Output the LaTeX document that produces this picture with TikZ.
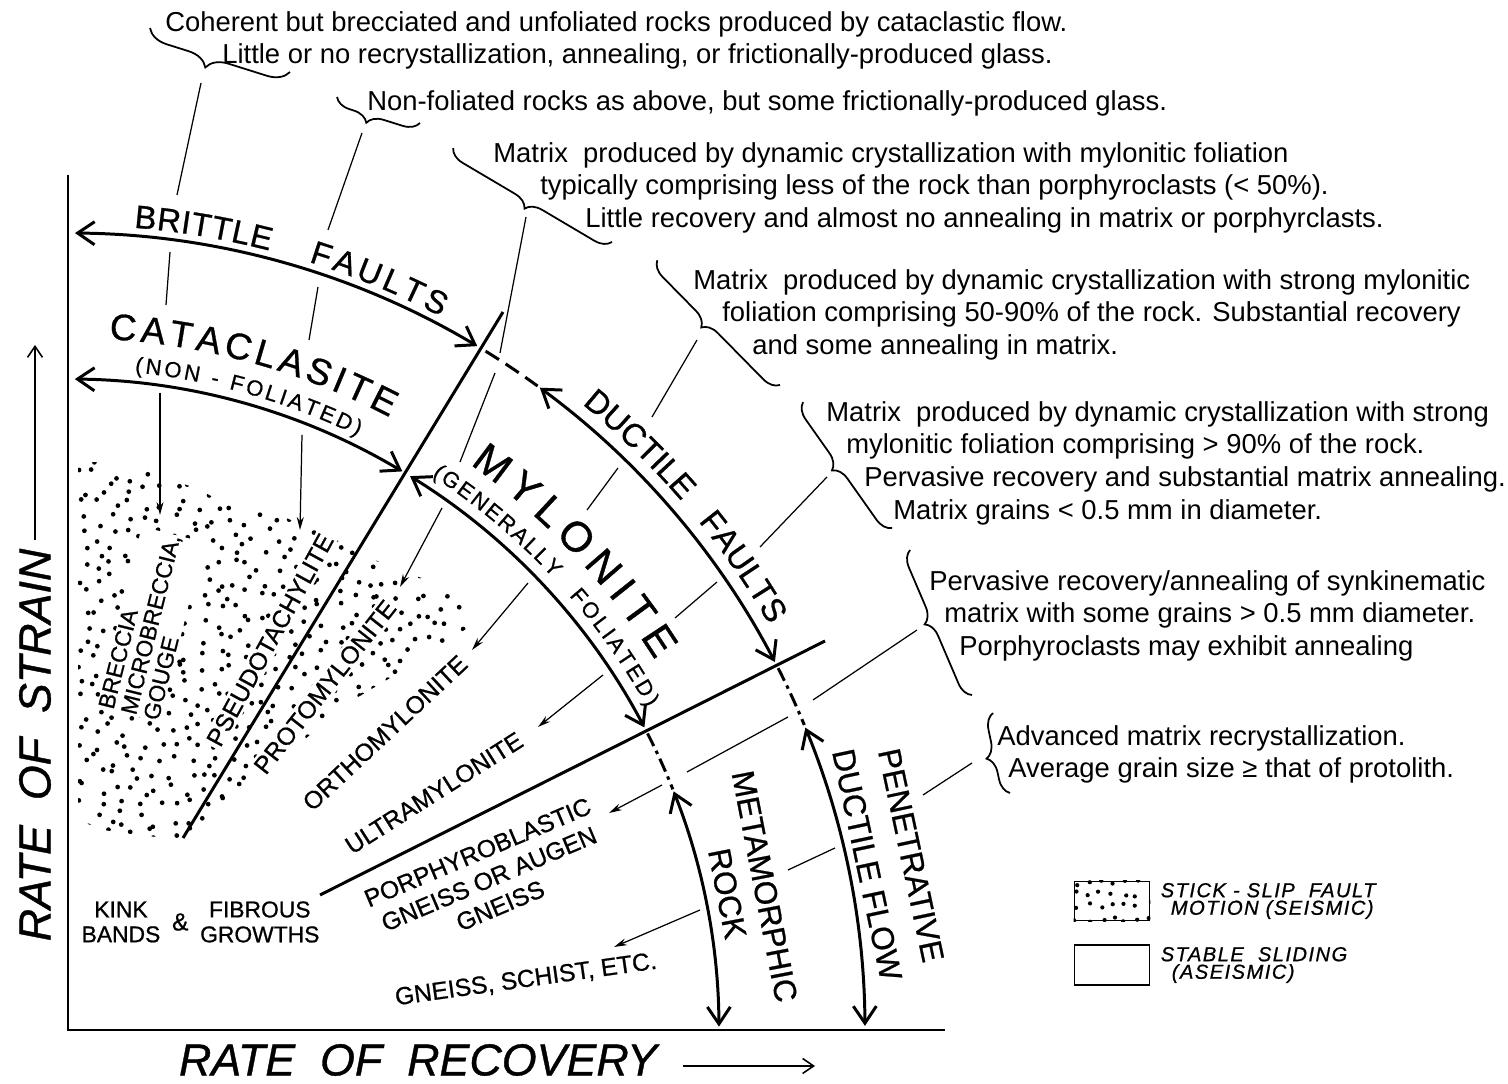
\documentclass[tikz,border=0pt]{standalone}
\usepackage{fontspec}
\setmainfont{Liberation Sans}
\newfontfamily\lettering[FakeBold=0.8]{Liberation Sans}
\usetikzlibrary{arrows.meta,calc,positioning,decorations.text,decorations.pathreplacing}

\newcommand\descsize{\fontsize{15.6}{18.6}\selectfont}
\newcommand\rocksize{\lettering\fontsize{14}{16.5}\selectfont}
\newcommand\flowsize{\lettering\fontsize{18}{22}\selectfont}
\newcommand\faultsize{\lettering\fontsize{18.5}{20}\selectfont}
\newcommand\catsize{\lettering\fontsize{21}{23}\selectfont}
\newcommand\mylsize{\lettering\fontsize{24}{26}\selectfont}
\newcommand\subsize{\lettering\fontsize{12.5}{14}\selectfont}
\newcommand\axsize{\lettering\fontsize{25.5}{30}\selectfont\itshape}
\newcommand\legsize{\lettering\fontsize{11.5}{10}\selectfont\itshape\addfontfeatures{LetterSpace=7}}

\tikzset{
  curly/.style={line width=1pt,decorate,decoration={brace,amplitude=9pt,aspect=#1}},
  onarc/.style={decorate,decoration={text along path,text align={fit to path},text={#1}}}
}

\begin{document}
\begin{tikzpicture}[x=0.02cm,y=0.02cm]
  \tikzstyle{desc}=[anchor=north west,inner sep=0pt,align=left,font=\descsize]
  \tikzstyle{rock}=[inner sep=0pt,font=\rocksize]
  \tikzstyle{clear}=[fill=white,inner sep=1.5pt]
  \tikzstyle{flow}=[inner sep=0pt,align=center,font=\flowsize]
  \tikzstyle{heavy}=[line width=1.7pt]
  \tikzstyle{bigarc}=[heavy,{Straight Barb[length=3.4mm,width=4.6mm]}-{Straight Barb[length=3.4mm,width=4.6mm]}]
  \tikzstyle{dasharc}=[heavy,dash pattern=on 9pt off 4.5pt]
  \tikzstyle{dotarc}=[heavy,dash pattern=on 8pt off 3pt on 2pt off 3pt]
  \tikzstyle{leader}=[line width=0.7pt]
  \tikzstyle{leadarrow}=[leader,-{Stealth[length=2.6mm,width=1.4mm]}]
  \tikzstyle{axarrow}=[line width=0.9pt,-{Straight Barb[length=2.2mm,width=3mm]}]
  \tikzstyle{legbox}=[draw,line width=1.1pt,minimum width=1.5cm,minimum height=0.78cm,inner sep=0pt]
  \tikzstyle{legtext}=[inner sep=0pt,align=left,font=\legsize]

  \useasboundingbox (-68,-54) rectangle (1440,1030);

  % stick-slip field
  \pgfmathsetseed{17}
  \begin{scope}
    \clip (10,567) -- (30,568) -- (70,562) -- (130,541) -- (160,525) -- (200,520)
      -- (280,485) -- (322,462) -- (360,450) -- (402,422) -- (404,405) -- (339,362)
      -- (285,330) -- (242,295) -- (180,245) -- (144,218) -- (117,190) -- (70,195)
      -- (35,200) -- (10,210) -- cycle;
    \foreach \gx in {0,15,...,405}
      \foreach \gy in {180,195,...,575}
        \fill ({\gx+14*rnd-7},{\gy+14*rnd-7}) circle[radius=1.35pt];
  \end{scope}

  % axes
  \coordinate (top) at (0,855);
  \coordinate (orig) at (0,0);
  \coordinate (far) at (877,0);
  \draw[heavy] (top) -- (orig) -- (far);

  \node[font=\axsize,inner sep=0pt,rotate=90] (strainlbl) at (-33,285) {RATE\ \ OF\ \ STRAIN};
  \coordinate (straintip) at (-33,685);
  \draw[axarrow] ($(strainlbl.east)+(0,8)$) -- (straintip);
  \node[font=\axsize,inner sep=0pt] (reclbl) at (350,-30) {RATE\ \ OF\ \ RECOVERY};
  \coordinate (rectip) at (747,-36);
  \draw[axarrow] ($(reclbl.east)+(26,-6)$) -- (rectip);

  % descriptions
  \node[desc] (desc1) at (97,1019) {Coherent but brecciated and unfoliated rocks produced by cataclastic flow.\\
    \hspace*{1.14cm}Little or no recrystallization, annealing, or frictionally-produced glass.};
  \node[desc] (desc2) at (299,940) {Non-foliated rocks as above, but some frictionally-produced glass.};
  \node[desc] (desc3) at (425,888) {Matrix\ \ produced by dynamic crystallization with mylonitic foliation\\
    \hspace*{0.94cm}typically comprising less of the rock than porphyroclasts (< 50\%).\\
    \hspace*{1.84cm}Little recovery and almost no annealing in matrix or porphyrclasts.};
  \node[desc] (desc4) at (625,761) {Matrix\ \ produced by dynamic crystallization with strong mylonitic\\
    \hspace*{0.58cm}foliation comprising 50-90\% of the rock. Substantial recovery\\
    \hspace*{1.18cm}and some annealing in matrix.};
  \node[desc] (desc5) at (758,629) {Matrix\ \ produced by dynamic crystallization with strong\\
    \hspace*{0.4cm}mylonitic foliation comprising > 90\% of the rock.\\
    \hspace*{0.76cm}Pervasive recovery and substantial matrix annealing.\\
    \hspace*{1.34cm}Matrix grains < 0.5 mm in diameter.};
  \node[desc] (desc6) at (861,460) {Pervasive recovery/annealing of synkinematic\\
    \hspace*{0.3cm}matrix with some grains > 0.5 mm diameter.\\
    \hspace*{0.6cm}Porphyroclasts may exhibit annealing};
  \node[desc] (desc7) at (929,305) {Advanced matrix recrystallization.\\
    \hspace*{0.22cm}Average grain size ≥ that of protolith.};

  % braces
  \draw[curly=0.56,decoration={amplitude=12pt}] (222,958) -- (82,1002);
  \draw[curly=0.59] (352,907) -- (269,933);
  \draw[curly=0.5] (544,788) -- (385,882);
  \draw[curly=0.55] (712,645) -- (589,770);
  \draw[curly=0.53] (824,502) -- (735,628);
  \draw[curly=0.53] (904,335) -- (842,480);
  \draw[curly=0.47] (942,237) -- (925,317);

  % leaders
  \coordinate (t1) at (133,947); \coordinate (e1) at (92,515);
  \draw[leader] (t1) -- (109,835) (102,778) -- (98,725);
  \draw[leadarrow] (92,637) -- (e1);
  \coordinate (t2) at (294,897); \coordinate (e2) at (232,500);
  \draw[leader] (t2) -- (260,800) (250,743) -- (241,690);
  \draw[leadarrow] (234,595) -- (e2);
  \coordinate (t3) at (458,813); \coordinate (e3) at (332,443);
  \draw[leader] (t3) -- (432,677) (427,657) -- (392,568);
  \draw[leadarrow] (374,522) -- (e3);
  \coordinate (t4) at (629,690); \coordinate (e4) at (404,380);
  \draw[leader] (t4) -- (584,613) (550,562) -- (519,520);
  \draw[leadarrow] (460,447) -- (e4);
  \coordinate (t5) at (759,553); \coordinate (e5) at (470,303);
  \draw[leader] (t5) -- (692,483) (649,448) -- (607,412);
  \draw[leadarrow] (535,355) -- (e5);
  \coordinate (t6) at (849,400); \coordinate (e6) at (541,217);
  \draw[leader] (t6) -- (745,330) (720,313) -- (619,258);
  \draw[leadarrow] (594,245) -- (e6);
  \coordinate (t7) at (904,267); \coordinate (e7) at (546,83);
  \draw[leader] (t7) -- (855,235) (767,182) -- (720,160);
  \draw[leadarrow] (632,120) -- (e7);

  % field boundaries
  \coordinate (b1lo) at (115,192); \coordinate (b1hi) at (435,718);
  \coordinate (b2lo) at (252,135); \coordinate (b2hi) at (757,389);
  \draw[heavy] (b1lo) -- (b1hi);
  \draw[heavy] (b2lo) -- (b2hi);

  % outer arc: faults and flow
  \draw[bigarc] (89.5:797) arc[start angle=89.5,end angle=59.1,radius=797];
  \draw[dasharc] (58.4:797) arc[start angle=58.4,end angle=53.9,radius=797];
  \draw[bigarc] (53.7:797) arc[start angle=53.7,end angle=27.5,radius=797];
  \draw[dotarc] (27.0:797) arc[start angle=27.0,end angle=22.5,radius=797];
  \draw[bigarc] (22.3:797) arc[start angle=22.3,end angle=0.3,radius=797];
  % inner arc: rock names
  \draw[bigarc] (89.4:651) arc[start angle=89.4,end angle=59.1,radius=651];
  \draw[bigarc] (58.3:651) arc[start angle=58.3,end angle=27.7,radius=651];
  \draw[dotarc] (27.1:651) arc[start angle=27.1,end angle=21.7,radius=651];
  \draw[bigarc] (21.5:651) arc[start angle=21.5,end angle=0.3,radius=651];

  % curved labels
  \path[onarc={|\faultsize|BRITTLE}] (85.3:805) arc[start angle=85.3,end angle=75.5,radius=805];
  \path[onarc={|\faultsize|FAULTS}] (72.6:805) arc[start angle=72.6,end angle=62.4,radius=805];
  \path[onarc={|\catsize|CATACLASITE}] (86.6:692) arc[start angle=86.6,end angle=62.3,radius=692];
  \path[onarc={|\subsize|(NON - FOLIATED)}] (84.2:661) arc[start angle=84.2,end angle=64,radius=661];
  \path[onarc={|\mylsize|MYLONITE}] (54.6:694) arc[start angle=54.6,end angle=32.2,radius=694];
  \path[onarc={|\subsize|(GENERALLY}] (56.7:663) arc[start angle=56.7,end angle=43,radius=663];
  \path[onarc={|\subsize|FOLIATED)}] (40.9:663) arc[start angle=40.9,end angle=29.1,radius=663];
  \path[onarc={|\faultsize|DUCTILE}] (50.6:810) arc[start angle=50.6,end angle=41.3,radius=810];
  \path[onarc={|\faultsize|FAULTS}] (38.9:810) arc[start angle=38.9,end angle=30,radius=810];

  % rock names
  \node[rock,clear,inner sep=0.5pt,rotate=76,anchor=west,align=left,font=\lettering\fontsize{13}{13.2}\selectfont] (breccia) at (60,315) {BRECCIA\\MICROBRECCIA,\\GOUGE};
  \node[rock,clear,rotate=61.3] (pseudo) at (202,390) {PSEUDOTACHYLITE};
  \node[rock,clear,rotate=51.8] (proto) at (257,343) {PROTOMYLONITE};
  \node[rock,clear,rotate=43] (ortho) at (317,297) {ORTHOMYLONITE};
  \node[rock,rotate=32.4] (ultra) at (366,237) {ULTRAMYLONITE};
  \node[rock,rotate=23,align=center] (porphyro) at (421,151) {PORPHYROBLASTIC\\GNEISS OR AUGEN\\GNEISS};
  \node[rock,rotate=8] (gneiss) at (458,50) {GNEISS, SCHIST, ETC.};
  \node[rock,align=center,font=\lettering\fontsize{13}{14.2}\selectfont] (kink) at (53,108) {KINK\\BANDS};
  \node[rock,right=0.22cm of kink] (amp) {\&};
  \node[rock,align=center,font=\lettering\fontsize{13}{14.2}\selectfont,right=0.22cm of amp] (fibrous) {FIBROUS\\GROWTHS};
  \node[flow,rotate=-79,font=\lettering\fontsize{18}{21.6}\selectfont] (metarock) at (678,140) {METAMORPHIC\\ROCK};
  \node[flow,rotate=-78,font=\lettering\fontsize{18}{25.6}\selectfont] (penflow) at (821,170) {PENETRATIVE\\DUCTILE FLOW};

  % legend
  \node[legbox] (stickbox) at (1044,129) {};
  \begin{scope}
    \clip (stickbox.south west) rectangle (stickbox.north east);
    \foreach \gx in {1010,1022,...,1082}
      \foreach \gy in {112,124,...,148}
        \fill ({\gx+8*rnd-4},{\gy+8*rnd-4}) circle[radius=1.2pt];
  \end{scope}
  \node[legtext,right=0.2cm of stickbox] (sticktxt) {STICK - SLIP\ \ FAULT\\\hspace*{0.2cm}MOTION (SEISMIC)};
  \node[legbox,minimum height=0.8cm] (stablebox) at (1044,65) {};
  \node[legtext,right=0.2cm of stablebox] (stabletxt) {STABLE\ \ SLIDING\\\hspace*{0.22cm}(ASEISMIC)};
\end{tikzpicture}
\end{document}
